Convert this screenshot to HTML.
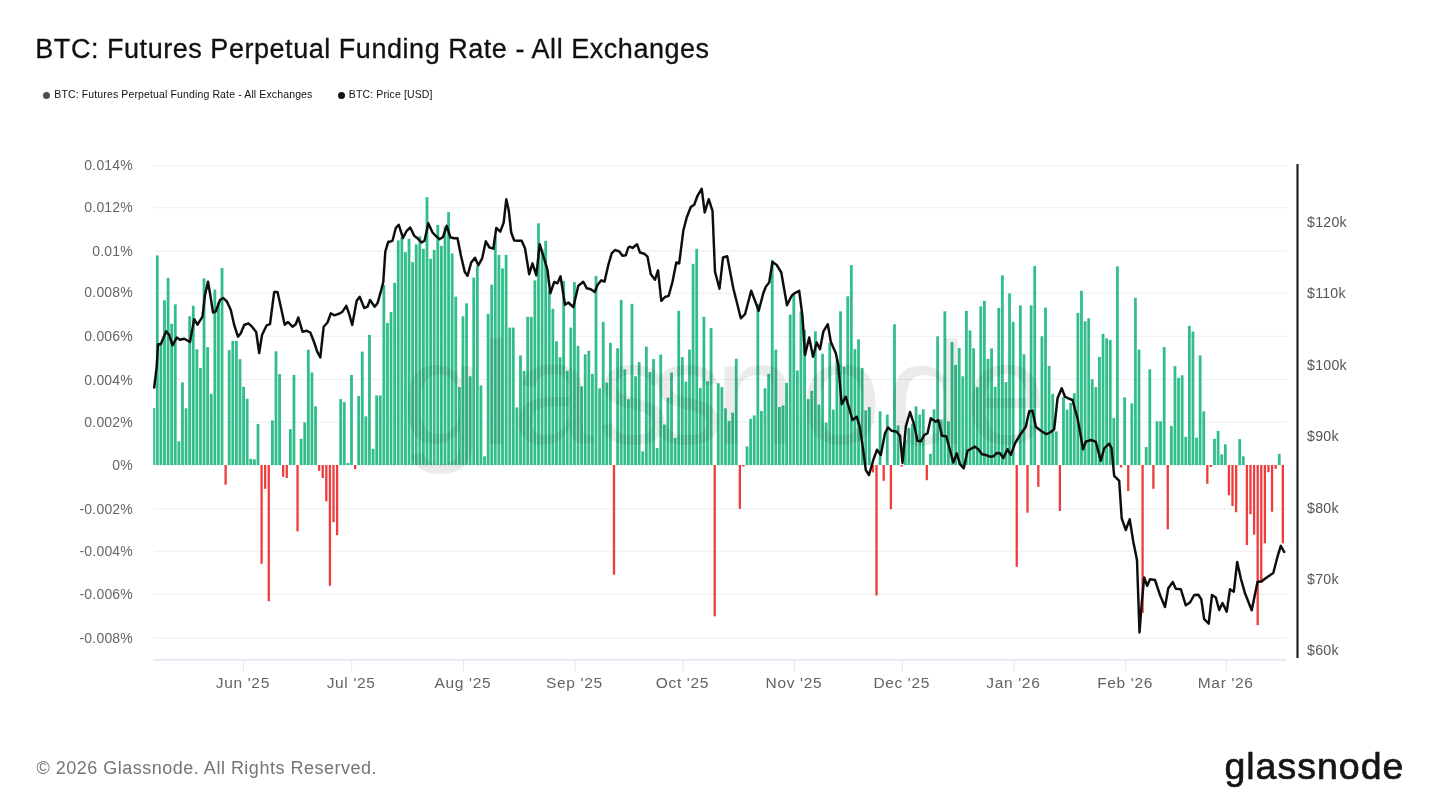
<!DOCTYPE html>
<html lang="en"><head><meta charset="utf-8"><title>BTC: Futures Perpetual Funding Rate - All Exchanges</title>
<style>
html,body{margin:0;padding:0;background:#fff;}
body{width:1440px;height:810px;position:relative;overflow:hidden;font-family:"Liberation Sans",sans-serif;}
.title{position:absolute;left:35.3px;top:32.3px;font-size:27px;line-height:34px;color:#111;letter-spacing:0.54px;-webkit-text-stroke:0.3px #111;white-space:nowrap;}
.legend{position:absolute;top:87px;font-size:10.5px;line-height:14px;color:#111;white-space:nowrap;letter-spacing:0.13px;}
.legend i{display:inline-block;width:7px;height:7px;border-radius:50%;margin-right:4px;vertical-align:-0.5px;}
.footer{position:absolute;left:36.5px;top:757px;font-size:18px;line-height:22px;color:#757575;white-space:nowrap;letter-spacing:0.5px;}
.logo{position:absolute;left:1224.4px;top:741.2px;font-size:37.5px;line-height:50px;color:#151515;white-space:nowrap;letter-spacing:1.0px;-webkit-text-stroke:0.7px #151515;}
svg{position:absolute;left:0;top:0;}
svg text{font-family:"Liberation Sans",sans-serif;}
.yl{font-size:14px;fill:#666;text-anchor:end;letter-spacing:0.2px;}
.yr{font-size:14.2px;fill:#555;text-anchor:start;letter-spacing:0.25px;}
.xl{font-size:15.5px;fill:#646464;text-anchor:middle;letter-spacing:0.65px;}
</style></head><body>
<div class="title">BTC: Futures Perpetual Funding Rate - All Exchanges</div>
<div class="legend" style="left:43.3px"><i style="background:#4a4f5c"></i>BTC: Futures Perpetual Funding Rate - All Exchanges</div>
<div class="legend" style="left:337.8px"><i style="background:#111"></i>BTC: Price [USD]</div>
<svg width="1440" height="810" viewBox="0 0 1440 810">
<g><rect x="154.3" y="165.0" width="1132.7" height="1.2" fill="#eef0f3"/><rect x="154.3" y="207.1" width="1132.7" height="1.2" fill="#eef0f3"/><rect x="154.3" y="250.5" width="1132.7" height="1.2" fill="#eef0f3"/><rect x="154.3" y="292.7" width="1132.7" height="1.2" fill="#eef0f3"/><rect x="154.3" y="335.7" width="1132.7" height="1.2" fill="#eef0f3"/><rect x="154.3" y="378.9" width="1132.7" height="1.2" fill="#eef0f3"/><rect x="154.3" y="421.6" width="1132.7" height="1.2" fill="#eef0f3"/><rect x="154.3" y="464.6" width="1132.7" height="1.2" fill="#eef0f3"/><rect x="154.3" y="508.2" width="1132.7" height="1.2" fill="#eef0f3"/><rect x="154.3" y="550.7" width="1132.7" height="1.2" fill="#eef0f3"/><rect x="154.3" y="593.8" width="1132.7" height="1.2" fill="#eef0f3"/><rect x="154.3" y="637.6" width="1132.7" height="1.2" fill="#eef0f3"/></g><g class="yl"><text x="133" y="170.1">0.014%</text><text x="133" y="212.2">0.012%</text><text x="133" y="255.6">0.01%</text><text x="133" y="297.4">0.008%</text><text x="133" y="340.8">0.006%</text><text x="133" y="384.5">0.004%</text><text x="133" y="426.5">0.002%</text><text x="133" y="470.3">0%</text><text x="133" y="513.7">-0.002%</text><text x="133" y="555.5">-0.004%</text><text x="133" y="598.9">-0.006%</text><text x="133" y="642.9">-0.008%</text></g><rect x="153" y="658.9" width="1133" height="1.8" fill="#e3e7f0"/><g stroke="#e6e6e6" stroke-width="1"><line x1="243.5" y1="661" x2="243.5" y2="671"/><line x1="351.7" y1="661" x2="351.7" y2="671"/><line x1="463.5" y1="661" x2="463.5" y2="671"/><line x1="575" y1="661" x2="575" y2="671"/><line x1="683" y1="661" x2="683" y2="671"/><line x1="794.5" y1="661" x2="794.5" y2="671"/><line x1="902.3" y1="661" x2="902.3" y2="671"/><line x1="1014" y1="661" x2="1014" y2="671"/><line x1="1125.7" y1="661" x2="1125.7" y2="671"/><line x1="1226.3" y1="661" x2="1226.3" y2="671"/></g><g class="xl"><text x="242.9" y="688.4">Jun '25</text><text x="351.1" y="688.4">Jul '25</text><text x="462.9" y="688.4">Aug '25</text><text x="574.4" y="688.4">Sep '25</text><text x="682.4" y="688.4">Oct '25</text><text x="793.9" y="688.4">Nov '25</text><text x="901.7" y="688.4">Dec '25</text><text x="1013.4" y="688.4">Jan '26</text><text x="1125.1" y="688.4">Feb '26</text><text x="1225.7" y="688.4">Mar '26</text></g><defs><filter id="bl" x="-1%" y="-2%" width="102%" height="104%"><feGaussianBlur stdDeviation="0.62 0.35"/></filter></defs>
<g filter="url(#bl)"><g fill="#33be8a"><rect x="153.20" y="407.9" width="2.0" height="57.1"/><rect x="155.90" y="255.4" width="2.8" height="209.6"/><rect x="159.50" y="342.6" width="2.8" height="122.4"/><rect x="163.09" y="300.4" width="2.8" height="164.6"/><rect x="166.69" y="277.9" width="2.8" height="187.1"/><rect x="170.28" y="323.8" width="2.8" height="141.2"/><rect x="173.88" y="304.3" width="2.8" height="160.7"/><rect x="177.48" y="441.3" width="2.8" height="23.7"/><rect x="181.07" y="382.4" width="2.8" height="82.6"/><rect x="184.67" y="408.3" width="2.8" height="56.7"/><rect x="188.26" y="316.3" width="2.8" height="148.7"/><rect x="191.86" y="305.8" width="2.8" height="159.2"/><rect x="195.46" y="349.3" width="2.8" height="115.7"/><rect x="199.05" y="367.9" width="2.8" height="97.1"/><rect x="202.65" y="278.3" width="2.8" height="186.7"/><rect x="206.24" y="347.1" width="2.8" height="117.9"/><rect x="209.84" y="393.8" width="2.8" height="71.2"/><rect x="213.44" y="289.6" width="2.8" height="175.4"/><rect x="217.03" y="302.1" width="2.8" height="162.9"/><rect x="220.63" y="267.9" width="2.8" height="197.1"/><rect x="227.82" y="350.1" width="2.8" height="114.9"/><rect x="231.42" y="340.9" width="2.8" height="124.1"/><rect x="235.01" y="340.9" width="2.8" height="124.1"/><rect x="238.61" y="359.1" width="2.8" height="105.9"/><rect x="242.20" y="386.8" width="2.8" height="78.2"/><rect x="245.80" y="398.8" width="2.8" height="66.2"/><rect x="249.40" y="458.8" width="2.8" height="6.2"/><rect x="252.99" y="459.3" width="2.8" height="5.7"/><rect x="256.59" y="424.1" width="2.8" height="40.9"/><rect x="270.97" y="420.4" width="2.8" height="44.6"/><rect x="274.57" y="351.3" width="2.8" height="113.7"/><rect x="278.16" y="374.1" width="2.8" height="90.9"/><rect x="288.95" y="429.1" width="2.8" height="35.9"/><rect x="292.55" y="374.9" width="2.8" height="90.1"/><rect x="299.74" y="438.8" width="2.8" height="26.2"/><rect x="303.34" y="422.4" width="2.8" height="42.6"/><rect x="306.93" y="349.6" width="2.8" height="115.4"/><rect x="310.53" y="372.4" width="2.8" height="92.6"/><rect x="314.12" y="406.3" width="2.8" height="58.7"/><rect x="339.30" y="399.1" width="2.8" height="65.9"/><rect x="342.89" y="402.1" width="2.8" height="62.9"/><rect x="346.49" y="462.9" width="2.8" height="2.1"/><rect x="350.08" y="374.9" width="2.8" height="90.1"/><rect x="357.28" y="395.9" width="2.8" height="69.1"/><rect x="360.87" y="351.6" width="2.8" height="113.4"/><rect x="364.47" y="416.3" width="2.8" height="48.7"/><rect x="368.06" y="334.9" width="2.8" height="130.1"/><rect x="371.66" y="448.8" width="2.8" height="16.2"/><rect x="375.26" y="395.4" width="2.8" height="69.6"/><rect x="378.85" y="395.4" width="2.8" height="69.6"/><rect x="382.45" y="284.9" width="2.8" height="180.1"/><rect x="386.04" y="322.9" width="2.8" height="142.1"/><rect x="389.64" y="312.1" width="2.8" height="152.9"/><rect x="393.24" y="282.9" width="2.8" height="182.1"/><rect x="396.83" y="240.4" width="2.8" height="224.6"/><rect x="400.43" y="237.1" width="2.8" height="227.9"/><rect x="404.02" y="252.1" width="2.8" height="212.9"/><rect x="407.62" y="238.8" width="2.8" height="226.2"/><rect x="411.22" y="262.1" width="2.8" height="202.9"/><rect x="414.81" y="244.3" width="2.8" height="220.7"/><rect x="418.41" y="236.3" width="2.8" height="228.7"/><rect x="422.00" y="248.8" width="2.8" height="216.2"/><rect x="425.60" y="197.1" width="2.8" height="267.9"/><rect x="429.20" y="258.8" width="2.8" height="206.2"/><rect x="432.79" y="249.9" width="2.8" height="215.1"/><rect x="436.39" y="224.9" width="2.8" height="240.1"/><rect x="439.98" y="245.9" width="2.8" height="219.1"/><rect x="443.58" y="226.6" width="2.8" height="238.4"/><rect x="447.18" y="212.1" width="2.8" height="252.9"/><rect x="450.77" y="253.4" width="2.8" height="211.6"/><rect x="454.37" y="296.6" width="2.8" height="168.4"/><rect x="457.96" y="387.1" width="2.8" height="77.9"/><rect x="461.56" y="316.3" width="2.8" height="148.7"/><rect x="465.16" y="303.3" width="2.8" height="161.7"/><rect x="468.75" y="376.3" width="2.8" height="88.7"/><rect x="472.35" y="277.6" width="2.8" height="187.4"/><rect x="475.94" y="265.8" width="2.8" height="199.2"/><rect x="479.54" y="385.4" width="2.8" height="79.6"/><rect x="483.14" y="456.3" width="2.8" height="8.7"/><rect x="486.73" y="313.8" width="2.8" height="151.2"/><rect x="490.33" y="284.6" width="2.8" height="180.4"/><rect x="493.92" y="236.6" width="2.8" height="228.4"/><rect x="497.52" y="254.9" width="2.8" height="210.1"/><rect x="501.12" y="268.4" width="2.8" height="196.6"/><rect x="504.71" y="254.9" width="2.8" height="210.1"/><rect x="508.31" y="327.6" width="2.8" height="137.4"/><rect x="511.90" y="327.6" width="2.8" height="137.4"/><rect x="515.50" y="407.4" width="2.8" height="57.6"/><rect x="519.10" y="355.4" width="2.8" height="109.6"/><rect x="522.69" y="370.9" width="2.8" height="94.1"/><rect x="526.29" y="316.8" width="2.8" height="148.2"/><rect x="529.88" y="316.8" width="2.8" height="148.2"/><rect x="533.48" y="280.4" width="2.8" height="184.6"/><rect x="537.08" y="223.3" width="2.8" height="241.7"/><rect x="540.67" y="249.6" width="2.8" height="215.4"/><rect x="544.27" y="240.8" width="2.8" height="224.2"/><rect x="547.86" y="290.6" width="2.8" height="174.4"/><rect x="551.46" y="308.8" width="2.8" height="156.2"/><rect x="555.06" y="341.3" width="2.8" height="123.7"/><rect x="558.65" y="357.1" width="2.8" height="107.9"/><rect x="562.25" y="280.9" width="2.8" height="184.1"/><rect x="565.84" y="370.9" width="2.8" height="94.1"/><rect x="569.44" y="327.6" width="2.8" height="137.4"/><rect x="573.04" y="282.1" width="2.8" height="182.9"/><rect x="576.63" y="345.9" width="2.8" height="119.1"/><rect x="580.23" y="386.3" width="2.8" height="78.7"/><rect x="583.82" y="354.3" width="2.8" height="110.7"/><rect x="587.42" y="350.8" width="2.8" height="114.2"/><rect x="591.02" y="373.8" width="2.8" height="91.2"/><rect x="594.61" y="275.9" width="2.8" height="189.1"/><rect x="598.21" y="388.3" width="2.8" height="76.7"/><rect x="601.80" y="321.8" width="2.8" height="143.2"/><rect x="605.40" y="382.6" width="2.8" height="82.4"/><rect x="609.00" y="342.9" width="2.8" height="122.1"/><rect x="616.19" y="348.3" width="2.8" height="116.7"/><rect x="619.78" y="299.9" width="2.8" height="165.1"/><rect x="623.38" y="369.3" width="2.8" height="95.7"/><rect x="626.98" y="399.2" width="2.8" height="65.8"/><rect x="630.57" y="303.8" width="2.8" height="161.2"/><rect x="634.17" y="376.3" width="2.8" height="88.7"/><rect x="637.76" y="362.1" width="2.8" height="102.9"/><rect x="641.36" y="451.3" width="2.8" height="13.7"/><rect x="644.96" y="346.6" width="2.8" height="118.4"/><rect x="648.55" y="372.1" width="2.8" height="92.9"/><rect x="652.15" y="359.1" width="2.8" height="105.9"/><rect x="655.74" y="447.9" width="2.8" height="17.1"/><rect x="659.34" y="354.6" width="2.8" height="110.4"/><rect x="662.94" y="424.6" width="2.8" height="40.4"/><rect x="666.53" y="397.6" width="2.8" height="67.4"/><rect x="670.13" y="372.6" width="2.8" height="92.4"/><rect x="673.72" y="437.9" width="2.8" height="27.1"/><rect x="677.32" y="310.8" width="2.8" height="154.2"/><rect x="680.92" y="357.1" width="2.8" height="107.9"/><rect x="684.51" y="381.6" width="2.8" height="83.4"/><rect x="688.11" y="349.6" width="2.8" height="115.4"/><rect x="691.70" y="263.8" width="2.8" height="201.2"/><rect x="695.30" y="248.8" width="2.8" height="216.2"/><rect x="698.90" y="387.9" width="2.8" height="77.1"/><rect x="702.49" y="316.8" width="2.8" height="148.2"/><rect x="706.09" y="381.3" width="2.8" height="83.7"/><rect x="709.68" y="327.9" width="2.8" height="137.1"/><rect x="716.88" y="383.3" width="2.8" height="81.7"/><rect x="720.47" y="387.1" width="2.8" height="77.9"/><rect x="724.07" y="408.3" width="2.8" height="56.7"/><rect x="727.66" y="420.9" width="2.8" height="44.1"/><rect x="731.26" y="412.6" width="2.8" height="52.4"/><rect x="734.86" y="358.8" width="2.8" height="106.2"/><rect x="745.64" y="446.3" width="2.8" height="18.7"/><rect x="749.24" y="418.8" width="2.8" height="46.2"/><rect x="752.84" y="415.4" width="2.8" height="49.6"/><rect x="756.43" y="303.8" width="2.8" height="161.2"/><rect x="760.03" y="410.9" width="2.8" height="54.1"/><rect x="763.62" y="388.3" width="2.8" height="76.7"/><rect x="767.22" y="373.8" width="2.8" height="91.2"/><rect x="770.82" y="259.9" width="2.8" height="205.1"/><rect x="774.41" y="349.6" width="2.8" height="115.4"/><rect x="778.01" y="407.1" width="2.8" height="57.9"/><rect x="781.60" y="405.4" width="2.8" height="59.6"/><rect x="785.20" y="382.9" width="2.8" height="82.1"/><rect x="788.80" y="314.6" width="2.8" height="150.4"/><rect x="792.39" y="295.4" width="2.8" height="169.6"/><rect x="795.99" y="370.4" width="2.8" height="94.6"/><rect x="799.58" y="311.6" width="2.8" height="153.4"/><rect x="803.18" y="329.6" width="2.8" height="135.4"/><rect x="806.78" y="399.1" width="2.8" height="65.9"/><rect x="810.37" y="390.8" width="2.8" height="74.2"/><rect x="813.97" y="331.3" width="2.8" height="133.7"/><rect x="817.56" y="404.6" width="2.8" height="60.4"/><rect x="821.16" y="353.8" width="2.8" height="111.2"/><rect x="824.76" y="422.6" width="2.8" height="42.4"/><rect x="828.35" y="342.9" width="2.8" height="122.1"/><rect x="831.95" y="409.6" width="2.8" height="55.4"/><rect x="835.54" y="359.6" width="2.8" height="105.4"/><rect x="839.14" y="311.3" width="2.8" height="153.7"/><rect x="842.74" y="366.6" width="2.8" height="98.4"/><rect x="846.33" y="296.3" width="2.8" height="168.7"/><rect x="849.93" y="265.1" width="2.8" height="199.9"/><rect x="853.52" y="349.1" width="2.8" height="115.9"/><rect x="857.12" y="339.3" width="2.8" height="125.7"/><rect x="860.72" y="367.9" width="2.8" height="97.1"/><rect x="864.31" y="410.4" width="2.8" height="54.6"/><rect x="867.91" y="407.1" width="2.8" height="57.9"/><rect x="878.70" y="411.3" width="2.8" height="53.7"/><rect x="885.89" y="414.6" width="2.8" height="50.4"/><rect x="893.08" y="324.3" width="2.8" height="140.7"/><rect x="896.68" y="425.4" width="2.8" height="39.6"/><rect x="903.87" y="439.6" width="2.8" height="25.4"/><rect x="907.46" y="427.9" width="2.8" height="37.1"/><rect x="911.06" y="423.6" width="2.8" height="41.4"/><rect x="914.66" y="406.3" width="2.8" height="58.7"/><rect x="918.25" y="414.6" width="2.8" height="50.4"/><rect x="921.85" y="409.3" width="2.8" height="55.7"/><rect x="929.04" y="453.8" width="2.8" height="11.2"/><rect x="932.64" y="409.3" width="2.8" height="55.7"/><rect x="936.23" y="336.3" width="2.8" height="128.7"/><rect x="939.83" y="419.6" width="2.8" height="45.4"/><rect x="943.42" y="311.3" width="2.8" height="153.7"/><rect x="947.02" y="421.3" width="2.8" height="43.7"/><rect x="950.62" y="342.1" width="2.8" height="122.9"/><rect x="954.21" y="364.9" width="2.8" height="100.1"/><rect x="957.81" y="347.9" width="2.8" height="117.1"/><rect x="961.40" y="376.3" width="2.8" height="88.7"/><rect x="965.00" y="310.9" width="2.8" height="154.1"/><rect x="968.60" y="330.4" width="2.8" height="134.6"/><rect x="972.19" y="348.3" width="2.8" height="116.7"/><rect x="975.79" y="387.1" width="2.8" height="77.9"/><rect x="979.38" y="306.3" width="2.8" height="158.7"/><rect x="982.98" y="300.9" width="2.8" height="164.1"/><rect x="986.58" y="358.8" width="2.8" height="106.2"/><rect x="990.17" y="348.4" width="2.8" height="116.6"/><rect x="993.77" y="386.8" width="2.8" height="78.2"/><rect x="997.36" y="307.9" width="2.8" height="157.1"/><rect x="1000.96" y="275.4" width="2.8" height="189.6"/><rect x="1004.56" y="382.1" width="2.8" height="82.9"/><rect x="1008.15" y="293.4" width="2.8" height="171.6"/><rect x="1011.75" y="321.8" width="2.8" height="143.2"/><rect x="1018.94" y="305.4" width="2.8" height="159.6"/><rect x="1022.54" y="354.3" width="2.8" height="110.7"/><rect x="1029.73" y="305.4" width="2.8" height="159.6"/><rect x="1033.32" y="265.9" width="2.8" height="199.1"/><rect x="1040.52" y="336.3" width="2.8" height="128.7"/><rect x="1044.11" y="307.6" width="2.8" height="157.4"/><rect x="1047.71" y="365.9" width="2.8" height="99.1"/><rect x="1051.30" y="393.8" width="2.8" height="71.2"/><rect x="1054.90" y="431.3" width="2.8" height="33.7"/><rect x="1062.09" y="397.1" width="2.8" height="67.9"/><rect x="1065.69" y="409.6" width="2.8" height="55.4"/><rect x="1069.28" y="402.9" width="2.8" height="62.1"/><rect x="1072.88" y="393.3" width="2.8" height="71.7"/><rect x="1076.48" y="312.9" width="2.8" height="152.1"/><rect x="1080.07" y="290.8" width="2.8" height="174.2"/><rect x="1083.67" y="321.3" width="2.8" height="143.7"/><rect x="1087.26" y="318.3" width="2.8" height="146.7"/><rect x="1090.86" y="379.3" width="2.8" height="85.7"/><rect x="1094.46" y="387.1" width="2.8" height="77.9"/><rect x="1098.05" y="356.9" width="2.8" height="108.1"/><rect x="1101.65" y="333.8" width="2.8" height="131.2"/><rect x="1105.24" y="338.3" width="2.8" height="126.7"/><rect x="1108.84" y="340.0" width="2.8" height="125.0"/><rect x="1112.44" y="417.9" width="2.8" height="47.1"/><rect x="1116.03" y="266.3" width="2.8" height="198.7"/><rect x="1123.22" y="397.4" width="2.8" height="67.6"/><rect x="1130.42" y="403.3" width="2.8" height="61.7"/><rect x="1134.01" y="297.9" width="2.8" height="167.1"/><rect x="1137.61" y="349.6" width="2.8" height="115.4"/><rect x="1144.80" y="447.1" width="2.8" height="17.9"/><rect x="1148.40" y="369.3" width="2.8" height="95.7"/><rect x="1155.59" y="421.3" width="2.8" height="43.7"/><rect x="1159.18" y="421.3" width="2.8" height="43.7"/><rect x="1162.78" y="347.1" width="2.8" height="117.9"/><rect x="1169.97" y="425.9" width="2.8" height="39.1"/><rect x="1173.57" y="366.1" width="2.8" height="98.9"/><rect x="1177.16" y="377.8" width="2.8" height="87.2"/><rect x="1180.76" y="375.3" width="2.8" height="89.7"/><rect x="1184.36" y="436.8" width="2.8" height="28.2"/><rect x="1187.95" y="325.8" width="2.8" height="139.2"/><rect x="1191.55" y="331.6" width="2.8" height="133.4"/><rect x="1195.14" y="437.6" width="2.8" height="27.4"/><rect x="1198.74" y="355.4" width="2.8" height="109.6"/><rect x="1202.34" y="411.3" width="2.8" height="53.7"/><rect x="1213.12" y="438.8" width="2.8" height="26.2"/><rect x="1216.72" y="430.9" width="2.8" height="34.1"/><rect x="1220.32" y="454.3" width="2.8" height="10.7"/><rect x="1223.91" y="444.3" width="2.8" height="20.7"/><rect x="1238.30" y="439.1" width="2.8" height="25.9"/><rect x="1241.89" y="456.3" width="2.8" height="8.7"/><rect x="1277.85" y="453.8" width="2.8" height="11.2"/></g>
<g fill="#ef3d3d"><rect x="224.47" y="465.0" width="2.3" height="19.7"/><rect x="260.43" y="465.0" width="2.3" height="98.8"/><rect x="264.03" y="465.0" width="2.3" height="23.8"/><rect x="267.63" y="465.0" width="2.3" height="136.3"/><rect x="282.01" y="465.0" width="2.3" height="11.8"/><rect x="285.61" y="465.0" width="2.3" height="13.0"/><rect x="296.39" y="465.0" width="2.3" height="66.3"/><rect x="317.97" y="465.0" width="2.3" height="5.8"/><rect x="321.57" y="465.0" width="2.3" height="13.0"/><rect x="325.16" y="465.0" width="2.3" height="36.3"/><rect x="328.76" y="465.0" width="2.3" height="120.8"/><rect x="332.35" y="465.0" width="2.3" height="57.2"/><rect x="335.95" y="465.0" width="2.3" height="70.2"/><rect x="353.93" y="465.0" width="2.3" height="4.2"/><rect x="612.84" y="465.0" width="2.3" height="109.7"/><rect x="713.53" y="465.0" width="2.3" height="151.3"/><rect x="738.70" y="465.0" width="2.3" height="43.8"/><rect x="742.30" y="465.0" width="2.3" height="1.5"/><rect x="871.75" y="465.0" width="2.3" height="7.5"/><rect x="875.35" y="465.0" width="2.3" height="130.5"/><rect x="882.54" y="465.0" width="2.3" height="15.8"/><rect x="889.73" y="465.0" width="2.3" height="44.2"/><rect x="900.52" y="465.0" width="2.3" height="1.5"/><rect x="925.69" y="465.0" width="2.3" height="15.2"/><rect x="1015.59" y="465.0" width="2.3" height="101.8"/><rect x="1026.38" y="465.0" width="2.3" height="47.7"/><rect x="1037.17" y="465.0" width="2.3" height="21.8"/><rect x="1058.75" y="465.0" width="2.3" height="46.0"/><rect x="1119.88" y="465.0" width="2.3" height="2.5"/><rect x="1127.07" y="465.0" width="2.3" height="26.0"/><rect x="1141.45" y="465.0" width="2.3" height="148.0"/><rect x="1152.24" y="465.0" width="2.3" height="23.8"/><rect x="1166.63" y="465.0" width="2.3" height="64.3"/><rect x="1206.18" y="465.0" width="2.3" height="18.8"/><rect x="1209.78" y="465.0" width="2.3" height="2.0"/><rect x="1227.76" y="465.0" width="2.3" height="30.2"/><rect x="1231.35" y="465.0" width="2.3" height="41.0"/><rect x="1234.95" y="465.0" width="2.3" height="47.2"/><rect x="1245.74" y="465.0" width="2.3" height="80.0"/><rect x="1249.33" y="465.0" width="2.3" height="49.2"/><rect x="1252.93" y="465.0" width="2.3" height="69.7"/><rect x="1256.53" y="465.0" width="2.3" height="160.2"/><rect x="1260.12" y="465.0" width="2.3" height="118.0"/><rect x="1263.72" y="465.0" width="2.3" height="78.3"/><rect x="1267.31" y="465.0" width="2.3" height="7.2"/><rect x="1270.91" y="465.0" width="2.3" height="46.7"/><rect x="1274.51" y="465.0" width="2.3" height="3.8"/><rect x="1281.70" y="465.0" width="2.3" height="78.3"/></g></g>
<text y="444" font-size="146" fill="#000" opacity="0.075"><tspan x="401.5">g</tspan><tspan x="479.8">l</tspan><tspan x="512.5">a</tspan><tspan x="597">s</tspan><tspan x="651">s</tspan><tspan x="714.4">n</tspan><tspan x="800.4">o</tspan><tspan x="886.3">d</tspan><tspan x="965.4">e</tspan></text><defs><filter id="bl2" x="-1%" y="-2%" width="102%" height="104%"><feGaussianBlur stdDeviation="0.4"/></filter></defs><polyline points="154.2,387.5 156.7,366.7 158.0,344.2 160.8,344.2 162.5,340.0 166.2,331.3 169.2,335.0 172.5,345.3 176.7,337.5 180.0,339.7 184.2,338.7 190.0,342.0 194.2,319.2 197.5,324.7 202.5,316.7 205.0,295.0 208.0,281.7 210.0,293.3 213.0,312.5 215.8,311.3 220.0,300.0 223.3,298.0 227.0,301.7 230.8,310.0 234.2,325.0 238.0,336.7 240.8,333.3 244.2,325.0 248.3,323.3 252.0,326.7 256.2,332.0 259.2,353.0 262.0,335.0 266.7,325.3 270.0,324.2 274.2,292.0 277.5,292.0 280.8,306.7 284.7,324.7 288.0,322.0 292.5,326.7 295.8,324.2 298.3,317.5 302.5,331.7 306.7,330.8 310.3,332.5 314.2,342.5 317.2,351.7 320.3,357.5 323.7,326.7 327.5,322.5 330.8,313.3 334.2,315.3 339.2,313.7 342.5,311.7 346.3,305.8 349.2,314.2 352.2,325.0 356.7,300.8 359.7,296.7 364.2,308.0 367.5,306.7 370.0,300.0 374.7,306.7 377.5,303.3 380.8,291.7 383.3,281.7 385.3,251.7 388.3,241.7 390.0,241.7 392.5,240.8 395.8,228.0 398.7,224.7 403.0,238.0 406.7,230.8 410.3,227.5 414.2,235.8 417.5,238.3 421.7,242.5 424.5,240.8 428.3,223.3 432.5,232.5 435.8,235.8 439.5,239.2 443.0,237.0 446.7,225.8 450.5,237.5 454.2,238.3 457.5,238.3 460.8,255.0 464.7,271.7 467.5,275.8 471.2,262.5 475.0,257.8 478.3,265.3 482.2,258.3 485.8,241.3 489.5,247.5 493.3,248.7 496.3,228.0 500.3,231.7 503.7,222.5 506.3,199.2 508.7,210.0 511.2,232.5 514.2,240.5 518.3,240.8 521.7,240.8 525.0,248.3 529.2,274.2 532.5,263.3 536.3,275.3 539.7,244.2 543.3,255.8 547.5,270.0 550.3,293.3 554.2,282.0 557.5,283.3 560.5,276.3 565.0,304.7 568.3,302.5 573.3,307.2 578.3,285.8 583.3,281.7 586.7,288.3 590.8,289.2 594.7,292.0 597.5,285.0 601.3,280.3 604.5,281.7 608.3,265.0 611.7,253.3 615.0,250.0 619.2,251.3 622.5,255.8 625.8,255.3 628.3,247.5 630.0,246.7 632.5,248.0 637.0,244.2 640.0,252.5 644.2,253.7 647.5,256.7 650.8,274.2 655.0,279.7 658.0,270.3 661.3,300.8 665.0,297.0 668.7,295.8 672.5,281.7 676.3,262.5 679.2,263.3 683.3,230.8 686.7,217.5 690.8,207.0 694.2,204.7 697.5,195.8 701.7,188.7 704.7,212.5 708.7,199.2 712.5,210.8 715.0,271.7 719.5,288.7 723.0,257.5 727.2,256.3 733.3,288.3 740.8,318.3 745.0,314.2 751.2,290.8 758.7,310.8 763.3,293.3 765.8,286.7 769.2,282.5 772.5,262.0 776.7,265.0 781.3,272.5 784.2,289.2 787.0,305.3 791.7,295.8 795.0,293.0 799.2,290.8 802.5,316.7 805.0,355.0 809.2,337.5 813.0,356.7 816.7,342.5 820.0,349.2 823.3,331.7 827.8,324.2 830.8,341.7 835.8,353.3 838.3,365.0 841.7,404.2 845.8,396.7 852.5,420.0 856.7,416.7 859.7,426.7 862.5,445.0 865.8,470.0 869.0,475.0 873.3,460.0 877.0,449.7 880.8,455.0 885.0,433.3 888.0,427.5 891.7,430.8 896.7,431.7 900.0,435.8 902.5,463.0 905.8,426.7 910.0,412.0 913.7,423.3 917.5,440.8 920.8,441.3 924.2,435.0 927.5,433.3 930.8,418.3 935.8,421.7 938.3,420.0 942.0,435.8 946.3,436.3 950.0,450.0 953.3,462.5 956.7,453.3 960.0,464.2 963.8,468.3 967.5,450.8 972.0,448.3 975.0,446.7 978.3,449.2 982.0,454.2 985.8,455.0 990.0,456.7 993.3,456.3 996.7,453.0 1000.0,453.3 1003.3,458.0 1007.5,449.2 1010.8,455.0 1015.0,443.3 1020.0,435.0 1025.8,426.7 1029.2,411.3 1032.5,410.8 1035.8,426.7 1040.8,430.8 1046.3,434.2 1050.0,432.5 1054.2,429.2 1057.5,398.3 1061.7,388.3 1065.0,396.7 1068.3,398.3 1072.5,400.0 1077.5,418.3 1080.3,433.3 1083.0,449.2 1085.8,441.7 1090.8,440.0 1095.8,441.7 1100.8,460.8 1104.2,448.3 1109.2,443.7 1111.5,448.0 1114.2,475.8 1119.2,480.8 1121.7,518.3 1125.8,530.0 1129.7,519.2 1133.3,541.7 1137.0,560.0 1139.5,632.5 1141.7,603.3 1144.2,577.5 1147.2,585.8 1150.0,579.2 1155.0,580.0 1160.0,595.0 1165.0,607.0 1168.3,588.3 1172.8,582.0 1175.8,588.7 1180.8,589.2 1185.8,605.3 1190.0,602.5 1194.2,595.0 1198.3,594.7 1201.3,599.2 1204.2,619.2 1208.7,623.7 1212.0,595.0 1215.8,597.5 1219.2,610.0 1222.5,603.0 1226.7,611.7 1230.0,589.2 1233.8,591.7 1237.2,562.0 1240.8,578.3 1245.0,593.3 1251.7,610.3 1257.5,582.0 1261.7,581.3 1266.7,577.5 1273.3,573.0 1277.5,556.7 1280.8,545.8 1284.2,552.0" fill="none" stroke="#0c0c0c" stroke-width="2.45" stroke-linejoin="round" stroke-linecap="round" filter="url(#bl2)"/><rect x="1296.4" y="164" width="2.2" height="494" fill="#222"/><g class="yr"><text x="1307" y="226.7">$120k</text><text x="1307" y="298.1">$110k</text><text x="1307" y="369.6">$100k</text><text x="1307" y="441.1">$90k</text><text x="1307" y="512.5">$80k</text><text x="1307" y="584.0">$70k</text><text x="1307" y="655.4">$60k</text></g></svg>
<div class="footer">© 2026 Glassnode. All Rights Reserved.</div><div class="logo">glassnode</div></body></html>
